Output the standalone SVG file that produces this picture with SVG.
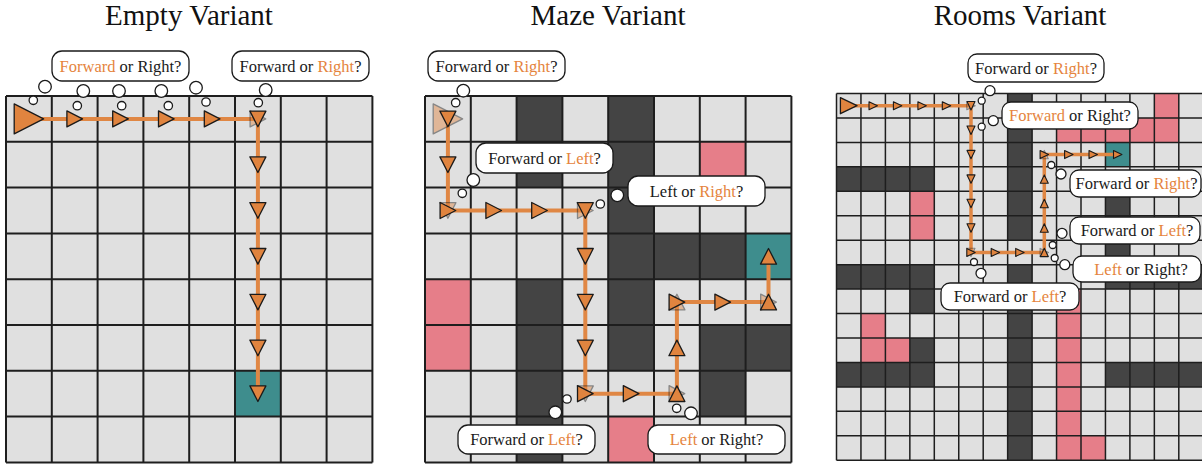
<svg xmlns="http://www.w3.org/2000/svg" width="1202" height="464" viewBox="0 0 1202 464">
<style>
.bg{fill:#e0e0e0}
.dk{fill:#444444}
.pk{fill:#e67e89}
.tl{fill:#3e8d8d}
.gl{fill:none;stroke:#1e1e1e;stroke-width:2}
.gs{fill:none;stroke:#1e1e1e;stroke-width:1.5}
.route{fill:none;stroke:#e08744;stroke-width:4;stroke-linejoin:miter}
.routes{fill:none;stroke:#e08744;stroke-width:3.5}
.tri{fill:#e0843f;stroke:#1a1a1a;stroke-width:1.3;stroke-linejoin:round}
.fade{opacity:0.45}
.bub{fill:#ffffff;stroke:#1a1a1a;stroke-width:1.3}
.bt{font-family:"Liberation Serif","Times New Roman",serif;font-size:16.5px;fill:#1a1a1a;text-anchor:middle}
.or{fill:#e5843d}
.title{font-family:"Liberation Serif","Times New Roman",serif;font-size:29px;fill:#111;text-anchor:middle}
</style>
<defs>
<polygon id="tL" class="tri" points="-14.7,-15 14.7,0 -14.7,15"/>
<polygon id="tM" class="tri" points="-7.8,-8 7.8,0 -7.8,8"/>
<polygon id="tLs" class="tri" points="-8.3,-8 8.3,0 -8.3,8"/>
<polygon id="tS" class="tri" style="stroke-width:1.1" points="-4.2,-4 4.2,0 -4.2,4"/>
</defs>

<text class="title" x="189" y="25">Empty Variant</text>
<text class="title" x="608" y="25">Maze Variant</text>
<text class="title" x="1020" y="25">Rooms Variant</text>

<!-- Panel 1: Empty -->
<g id="grid-empty">
<rect class="bg" x="6" y="96" width="366.4" height="366.4"/>
<rect class="tl" x="235" y="370.8" width="45.8" height="45.8"/>
<path class="gl" d="M6,96V462.4M51.8,96V462.4M97.6,96V462.4M143.4,96V462.4M189.2,96V462.4M235,96V462.4M280.8,96V462.4M326.6,96V462.4M372.4,96V462.4M6,96H372.4M6,141.8H372.4M6,187.6H372.4M6,233.4H372.4M6,279.2H372.4M6,325H372.4M6,370.8H372.4M6,416.6H372.4M6,462.4H372.4"/>
</g>

<!-- Panel 2: Maze -->
<g id="grid-maze">
<rect class="bg" x="425" y="96" width="366.4" height="366.4"/>
<g class="dk">
<rect x="516.6" y="96" width="45.8" height="91.6"/>
<rect x="608.2" y="96" width="45.8" height="183.2"/>
<rect x="654" y="233.4" width="91.6" height="45.8"/>
<rect x="516.6" y="279.2" width="45.8" height="183.2"/>
<rect x="608.2" y="279.2" width="45.8" height="91.6"/>
<rect x="699.8" y="325" width="91.6" height="45.8"/>
<rect x="699.8" y="370.8" width="45.8" height="45.8"/>
</g>
<g class="pk">
<rect x="699.8" y="141.8" width="45.8" height="45.8"/>
<rect x="425" y="279.2" width="45.8" height="91.6"/>
<rect x="608.2" y="416.6" width="45.8" height="45.8"/>
</g>
<rect class="tl" x="745.6" y="233.4" width="45.8" height="45.8"/>
<path class="gl" d="M425,96V462.4M470.8,96V462.4M516.6,96V462.4M562.4,96V462.4M608.2,96V462.4M654,96V462.4M699.8,96V462.4M745.6,96V462.4M791.4,96V462.4M425,96H791.4M425,141.8H791.4M425,187.6H791.4M425,233.4H791.4M425,279.2H791.4M425,325H791.4M425,370.8H791.4M425,416.6H791.4M425,462.4H791.4"/>
</g>

<!-- Panel 3: Rooms -->
<g id="grid-rooms">
<rect class="bg" x="836.5" y="93.5" width="366.75" height="366.75"/>
<g class="dk">
<rect x="836.5" y="166.85" width="97.8" height="24.45"/>
<rect x="836.5" y="264.65" width="97.8" height="24.45"/>
<rect x="836.5" y="362.45" width="97.8" height="24.45"/>
<rect x="909.85" y="289.1" width="24.45" height="24.45"/>
<rect x="909.85" y="338" width="24.45" height="24.45"/>
<rect x="1007.65" y="93.5" width="24.45" height="146.7"/>
<rect x="1007.65" y="264.65" width="24.45" height="195.6"/>
<rect x="1105.45" y="191.3" width="24.45" height="73.35"/>
<rect x="1105.45" y="264.65" width="97.8" height="24.45"/>
<rect x="1105.45" y="362.45" width="97.8" height="24.45"/>
</g>
<g class="pk">
<rect x="1154.35" y="93.5" width="24.45" height="24.45"/>
<rect x="1056.55" y="117.95" width="122.25" height="24.45"/>
<rect x="909.85" y="191.3" width="24.45" height="48.9"/>
<rect x="860.95" y="313.55" width="24.45" height="48.9"/>
<rect x="885.4" y="338" width="24.45" height="24.45"/>
<rect x="1056.55" y="289.1" width="24.45" height="171.15"/>
<rect x="1081" y="435.8" width="24.45" height="24.45"/>
</g>
<rect class="tl" x="1105.45" y="142.4" width="24.45" height="24.45"/>
<path class="gs" d="M836.5,93.5V460.25M860.95,93.5V460.25M885.4,93.5V460.25M909.85,93.5V460.25M934.3,93.5V460.25M958.75,93.5V460.25M983.2,93.5V460.25M1007.65,93.5V460.25M1032.1,93.5V460.25M1056.55,93.5V460.25M1081,93.5V460.25M1105.45,93.5V460.25M1129.9,93.5V460.25M1154.35,93.5V460.25M1178.8,93.5V460.25M836.5,93.5H1203.25M836.5,117.95H1203.25M836.5,142.4H1203.25M836.5,166.85H1203.25M836.5,191.3H1203.25M836.5,215.75H1203.25M836.5,240.2H1203.25M836.5,264.65H1203.25M836.5,289.1H1203.25M836.5,313.55H1203.25M836.5,338H1203.25M836.5,362.45H1203.25M836.5,386.9H1203.25M836.5,411.35H1203.25M836.5,435.8H1203.25M836.5,460.25H1203.25"/>
</g>

<!-- connectors: agent paths -->
<g id="connectors">
<path class="route" d="M28.9,118.9H257.9V393.7"/>
<path class="route" d="M447.9,118.9V210.5H585.3V393.7H676.9V302.1H768.5V256.3"/>
<path class="routes" d="M848.7,105.7H971V252.4H1044.3V154.6H1117.7"/>
</g>

<!-- agent markers -->
<g id="markers-empty">
<use href="#tL" transform="translate(28.9,118.9)"/>
<use href="#tM" transform="translate(74.7,118.9)"/>
<use href="#tM" transform="translate(120.5,118.9)"/>
<use href="#tM" transform="translate(166.3,118.9)"/>
<use href="#tM" transform="translate(212.1,118.9)"/>
<use href="#tM" class="fade" transform="translate(257.9,118.9)"/>
<use href="#tM" transform="translate(257.9,118.9) rotate(90)"/>
<use href="#tM" transform="translate(257.9,164.7) rotate(90)"/>
<use href="#tM" transform="translate(257.9,210.5) rotate(90)"/>
<use href="#tM" transform="translate(257.9,256.3) rotate(90)"/>
<use href="#tM" transform="translate(257.9,302.1) rotate(90)"/>
<use href="#tM" transform="translate(257.9,347.9) rotate(90)"/>
<use href="#tM" transform="translate(257.9,393.7) rotate(90)"/>
</g>

<g id="markers-maze">
<use href="#tL" class="fade" transform="translate(447.9,118.9)"/>
<use href="#tM" transform="translate(447.9,118.9) rotate(90)"/>
<use href="#tM" transform="translate(447.9,164.7) rotate(90)"/>
<use href="#tM" class="fade" transform="translate(447.9,210.5) rotate(90)"/>
<use href="#tM" transform="translate(447.9,210.5)"/>
<use href="#tM" transform="translate(493.7,210.5)"/>
<use href="#tM" transform="translate(539.5,210.5)"/>
<use href="#tM" class="fade" transform="translate(585.3,210.5)"/>
<use href="#tM" transform="translate(585.3,210.5) rotate(90)"/>
<use href="#tM" transform="translate(585.3,256.3) rotate(90)"/>
<use href="#tM" transform="translate(585.3,302.1) rotate(90)"/>
<use href="#tM" transform="translate(585.3,347.9) rotate(90)"/>
<use href="#tM" class="fade" transform="translate(585.3,393.7) rotate(90)"/>
<use href="#tM" transform="translate(585.3,393.7)"/>
<use href="#tM" transform="translate(631.1,393.7)"/>
<use href="#tM" class="fade" transform="translate(676.9,393.7)"/>
<use href="#tM" transform="translate(676.9,393.7) rotate(-90)"/>
<use href="#tM" transform="translate(676.9,347.9) rotate(-90)"/>
<use href="#tM" class="fade" transform="translate(676.9,302.1) rotate(-90)"/>
<use href="#tM" transform="translate(676.9,302.1)"/>
<use href="#tM" transform="translate(722.7,302.1)"/>
<use href="#tM" class="fade" transform="translate(768.5,302.1)"/>
<use href="#tM" transform="translate(768.5,302.1) rotate(-90)"/>
<use href="#tM" transform="translate(768.5,256.3) rotate(-90)"/>
</g>

<g id="markers-rooms">
<use href="#tLs" transform="translate(848.7,105.7)"/>
<use href="#tS" transform="translate(873.2,105.7)"/>
<use href="#tS" transform="translate(897.6,105.7)"/>
<use href="#tS" transform="translate(922.1,105.7)"/>
<use href="#tS" transform="translate(946.5,105.7)"/>
<use href="#tS" class="fade" transform="translate(971,105.7)"/>
<use href="#tS" transform="translate(971,105.7) rotate(90)"/>
<use href="#tS" transform="translate(971,130.2) rotate(90)"/>
<use href="#tS" transform="translate(971,154.6) rotate(90)"/>
<use href="#tS" transform="translate(971,179.1) rotate(90)"/>
<use href="#tS" transform="translate(971,203.5) rotate(90)"/>
<use href="#tS" transform="translate(971,228) rotate(90)"/>
<use href="#tS" class="fade" transform="translate(971,252.4) rotate(90)"/>
<use href="#tS" transform="translate(971,252.4)"/>
<use href="#tS" transform="translate(995.4,252.4)"/>
<use href="#tS" transform="translate(1019.9,252.4)"/>
<use href="#tS" class="fade" transform="translate(1044.3,252.4)"/>
<use href="#tS" transform="translate(1044.3,252.4) rotate(-90)"/>
<use href="#tS" transform="translate(1044.3,228) rotate(-90)"/>
<use href="#tS" transform="translate(1044.3,203.5) rotate(-90)"/>
<use href="#tS" transform="translate(1044.3,179.1) rotate(-90)"/>
<use href="#tS" class="fade" transform="translate(1044.3,154.6) rotate(-90)"/>
<use href="#tS" transform="translate(1044.3,154.6)"/>
<use href="#tS" transform="translate(1068.8,154.6)"/>
<use href="#tS" transform="translate(1093.2,154.6)"/>
<use href="#tS" transform="translate(1117.7,154.6)"/>
</g>

<!-- thought bubbles: Empty -->
<g id="bubble-e1">
<circle class="bub" cx="45" cy="86.7" r="6.3"/><circle class="bub" cx="33.3" cy="100.3" r="4.2"/>
<circle class="bub" cx="83.3" cy="91" r="6.3"/><circle class="bub" cx="77.3" cy="105.7" r="4.2"/>
<circle class="bub" cx="119" cy="91" r="6.3"/><circle class="bub" cx="121.7" cy="105.7" r="4.2"/>
<circle class="bub" cx="161.3" cy="91" r="6.3"/><circle class="bub" cx="168.3" cy="105.7" r="4.2"/>
<circle class="bub" cx="196" cy="87.7" r="6.3"/><circle class="bub" cx="206" cy="102" r="4.2"/>
<rect class="bub" x="52" y="51" width="137" height="30" rx="10"/>
<text class="bt" x="120.5" y="71.5"><tspan class="or">Forward</tspan> or Right?</text>
</g>
<g id="bubble-e2">
<circle class="bub" cx="265.7" cy="90" r="6.3"/><circle class="bub" cx="258.3" cy="102.7" r="4.2"/>
<rect class="bub" x="232" y="51" width="137" height="30" rx="10"/>
<text class="bt" x="300.5" y="71.5">Forward or <tspan class="or">Right</tspan>?</text>
</g>

<!-- thought bubbles: Maze -->
<g id="bubble-m1">
<circle class="bub" cx="463.3" cy="90.7" r="6.3"/><circle class="bub" cx="455.7" cy="102.7" r="4.2"/>
<rect class="bub" x="428" y="51" width="137" height="30" rx="10"/>
<text class="bt" x="496.5" y="71.5">Forward or <tspan class="or">Right</tspan>?</text>
</g>
<g id="bubble-m2">
<circle class="bub" cx="473.3" cy="180" r="6.3"/><circle class="bub" cx="462.3" cy="193.3" r="4.2"/>
<rect class="bub" x="476" y="143" width="137" height="30" rx="10"/>
<text class="bt" x="544.5" y="163.5">Forward or <tspan class="or">Left</tspan>?</text>
</g>
<g id="bubble-m3">
<circle class="bub" cx="617.3" cy="195.3" r="6.3"/><circle class="bub" cx="600.3" cy="204" r="4.2"/>
<rect class="bub" x="628" y="176" width="137" height="30" rx="10"/>
<text class="bt" x="696.5" y="196.5">Left or <tspan class="or">Right</tspan>?</text>
</g>
<g id="bubble-m4">
<circle class="bub" cx="555.3" cy="412.3" r="6.3"/><circle class="bub" cx="567" cy="399" r="4.2"/>
<rect class="bub" x="458" y="425" width="137" height="29" rx="10"/>
<text class="bt" x="526.5" y="445">Forward or <tspan class="or">Left</tspan>?</text>
</g>
<g id="bubble-m5">
<circle class="bub" cx="676.7" cy="408.3" r="4.2"/><circle class="bub" cx="691" cy="413.3" r="6.3"/>
<rect class="bub" x="648" y="425" width="137" height="29" rx="10"/>
<text class="bt" x="716.5" y="445"><tspan class="or">Left</tspan> or Right?</text>
</g>

<!-- thought bubbles: Rooms -->
<g id="bubble-r1">
<circle class="bub" cx="990" cy="90.7" r="5"/><circle class="bub" cx="981.7" cy="100.7" r="3.5"/>
<rect class="bub" x="968" y="54" width="136" height="28" rx="9"/>
<text class="bt" x="1036" y="73.5">Forward or <tspan class="or">Right</tspan>?</text>
</g>
<g id="bubble-r2">
<circle class="bub" cx="993.3" cy="120.7" r="5"/><circle class="bub" cx="981.7" cy="126.7" r="3.5"/>
<rect class="bub" x="1002" y="102" width="136" height="27" rx="9"/>
<text class="bt" x="1070" y="121"><tspan class="or">Forward</tspan> or Right?</text>
</g>
<g id="bubble-r3">
<circle class="bub" cx="1051.3" cy="165" r="3.5"/><circle class="bub" cx="1061" cy="174" r="5"/>
<rect class="bub" x="1070" y="170" width="131" height="27" rx="9"/>
<text class="bt" x="1136.5" y="189">Forward or <tspan class="or">Right</tspan>?</text>
</g>
<g id="bubble-r4">
<circle class="bub" cx="1062" cy="233.3" r="5"/><circle class="bub" cx="1052.7" cy="245" r="3.5"/>
<rect class="bub" x="1070" y="217" width="130" height="27" rx="9"/>
<text class="bt" x="1137" y="236">Forward or <tspan class="or">Left</tspan>?</text>
</g>
<g id="bubble-r5">
<circle class="bub" cx="1054.7" cy="258" r="3.5"/><circle class="bub" cx="1064.8" cy="264.7" r="5"/>
<rect class="bub" x="1073" y="256" width="128" height="26" rx="9"/>
<text class="bt" x="1141" y="274.5"><tspan class="or">Left</tspan> or Right?</text>
</g>
<g id="bubble-r6">
<circle class="bub" cx="974" cy="262" r="3.5"/><circle class="bub" cx="981" cy="273.3" r="5"/>
<rect class="bub" x="941" y="283" width="138" height="27" rx="9"/>
<text class="bt" x="1010" y="302">Forward or <tspan class="or">Left</tspan>?</text>
</g>
</svg>
